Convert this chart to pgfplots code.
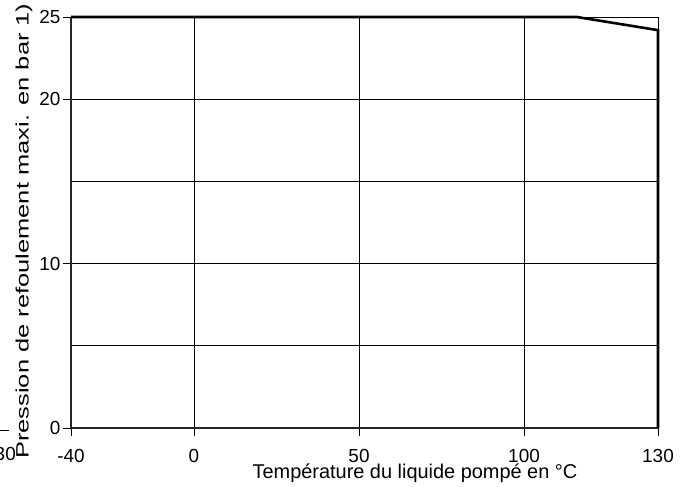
\documentclass[border=0pt]{standalone}
\usepackage{pgfplots}
\pgfplotsset{compat=1.18}
\usepackage{fontspec}
\setmainfont{Liberation Sans}
\begin{document}
\begin{tikzpicture}
\begin{axis}[
  at={(0,0)}, anchor=south west,
  scale only axis,
  width=587bp, height=411bp,
  xmin=-37.27, xmax=140.6,
  ymin=0, ymax=25,
  axis lines=left,
  axis line style={-, line width=1.6bp, black!85},
  xtick={-37.27,0,50,100,140.6},
  xticklabels={-40,0,50,100,130},
  ytick={0,10,20,25},
  minor ytick={5,15},
  grid=both,
  major grid style={black, line width=0.7bp},
  minor grid style={black, line width=0.7bp},
  tick align=outside,
  major tick length=8bp,
  minor tick length=0pt,
  tick style={black, line width=0.7bp},
  xtick pos=left, ytick pos=left,
  ticklabel style={font=\fontsize{19}{22}\selectfont},
  /pgf/number format/assume math mode=true,
  xticklabel style={yshift=-10bp},
  yticklabel style={xshift=1bp},
  xlabel={Température du liquide pompé en °C},
  ylabel={\scalebox{1.42}[1]{Pression de refoulement maxi. en bar 1)}},
  xlabel style={font=\fontsize{20}{23}\selectfont, at={(axis description cs:0.586,0)}, anchor=base, yshift=-50bp},
  ylabel style={font=\fontsize{18}{20}\selectfont, at={(axis description cs:-0.080,0.479)}, anchor=center},
  clip=false,
]
\addplot[black, line width=2.6bp] coordinates {(-37.27,25) (116,25) (140.6,24.2) (140.6,0)};
\end{axis}
\draw[black, line width=0.8bp] (-71bp,-2bp) -- (-62bp,-2bp);
\node[anchor=east, font=\fontsize{19}{22}\selectfont, inner sep=0pt] at (-55bp,-26bp) {130};
\pgfresetboundingbox
\path[use as bounding box] (-71bp,-59bp) rectangle (615bp,428bp);
\end{tikzpicture}
\end{document}
